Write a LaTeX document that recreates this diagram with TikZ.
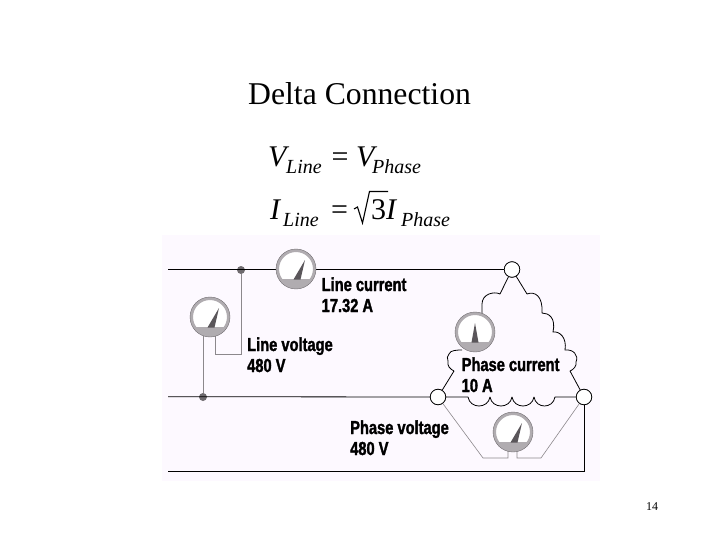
\documentclass[tikz,border=0pt]{standalone}
\usepackage{fontspec}
\setmainfont{Liberation Serif}
\newfontfamily\lblfont[FakeStretch=0.78,FakeBold=1.6]{Liberation Sans Bold}
\definecolor{panel}{HTML}{FDF9FF}
\definecolor{mgray}{HTML}{B0ACB0}
\definecolor{ndl}{HTML}{5A565A}
\definecolor{wire}{HTML}{8C888C}
\definecolor{dotc}{HTML}{6E6A6E}
\tikzset{
  lbl/.style={anchor=base west,inner sep=0pt,font=\lblfont\fontsize{18.8}{18.8}\selectfont,text=black},
  eqbig/.style={anchor=base west,inner sep=0pt,font=\itshape\fontsize{30}{30}\selectfont},
  eqsub/.style={anchor=base west,inner sep=0pt,font=\itshape\fontsize{20}{20}\selectfont},
  eqop/.style={anchor=base west,inner sep=0pt,font=\fontsize{30}{30}\selectfont},
  term/.style={circle,draw=black,fill=white,line width=0.7pt,minimum size=15.5pt,inner sep=0pt},
  dotn/.style={circle,fill=dotc,minimum size=8pt,inner sep=0pt},
  face/.style={circle,draw=none,fill=none,minimum size=40pt,inner sep=0pt},
  thickw/.style={line width=1.5pt,black},
  thinw/.style={line width=0.8pt,black},
  grayw/.style={line width=0.8pt,wire},
  coil/.style={line width=0.8pt,black,line join=round},
  pics/gauge/.style n args={2}{code={
    \fill[white] (0,0) circle (19.5);
    \begin{scope}
      \clip (0,0) circle (19.5);
      \fill[mgray] (-21,10) rectangle (21,21);
    \end{scope}
    \draw[mgray,line width=3pt] (0,0) circle (18.5);
    \draw[ndl!70!mgray,line width=0.4pt] (0,0) circle (20);
    \fill[ndl] (#1-3.5,10.5) -- (#2,-9) -- (#1+3.5,10.5) -- cycle;
  }}
}
\begin{document}
\begin{tikzpicture}[x=1pt,y=-1pt]
\useasboundingbox (0,0) rectangle (720,540);
\fill[white] (0,0) rectangle (720,540);
\fill[panel] (162,235) rectangle (600,481);

\node[anchor=base west,inner sep=0pt,font=\fontsize{31.7}{31.7}\selectfont] (title) at (248,105) {Delta Connection};

\node[eqbig] (v1) at (268,167) {V};
\node[eqsub] (v1s) at (286,174) {Line};
\node[eqop] (eq1) at (331.5,167) {=};
\node[eqbig] (v2) at (356,167) {V};
\node[eqsub] (v2s) at (372,174) {Phase};
\node[eqbig] (i1) at (270,220) {I};
\node[eqsub] (i1s) at (283,226) {Line};
\node[eqop] (eq2) at (331,220) {=};
\node[eqop] (three) at (371,220) {3};
\node[eqbig] (i2) at (386,220) {I};
\node[eqsub] (i2s) at (401,226) {Phase};
\draw[line width=1.1pt,black,line join=miter] (354,209) -- (357.5,207) -- (362.5,223) -- (369.5,191.5) -- (388,191.5);

% nodes of the circuit
\node[term] (T) at (512,269.5) {};
\node[term] (L) at (438,397) {};
\node[term] (R) at (584,397) {};
\node[dotn] (d1) at (241,270) {};
\node[dotn] (d2) at (203,397) {};
\coordinate (a1) at (168,269.5);
\coordinate (a2) at (168,396.7);
\coordinate (a3) at (168,471.5);
\coordinate (c3) at (584,471.5);
\coordinate (k1) at (215,354.5);
\coordinate (k2) at (241,354.5);
\coordinate (k0) at (215,335);
\coordinate (k3) at (203,335);

% supply lines
\draw[thickw] (a1) -- (T);
\draw[thinw] (a2) -- (L);
\draw[thinw] (a3) -- (c3) -- (R);

% line-voltage meter wires
\draw[grayw] (d1) -- (k2) -- (k1) -- (k0);
\draw[grayw] (k3) -- (d2);

% phase-voltage meter wires
\coordinate (p1) at (483,458);
\coordinate (p2) at (508,458);
\coordinate (p3) at (508,450);
\coordinate (p4) at (517,450);
\coordinate (p5) at (517,458);
\coordinate (p6) at (541,458);
\draw[line width=0.6pt,wire] (L) -- (p1) -- (p2) -- (p3);
\draw[line width=0.6pt,wire] (R) -- (p6) -- (p5) -- (p4);

% left winding
\draw[coil] (T) -- (500,294)
  .. controls (494,291) and (482,294) .. (482,304)
  -- (482,314);
\draw[coil] (462,350)
  .. controls (458,350) and (450,350) .. (449,354)
  .. controls (447,356) and (447,358) .. (448,361)
  .. controls (447,366) and (450,369) .. (454,371)
  -- (L);
% right winding
\draw[coil] (T) -- (527,294)
  .. controls (535,291) and (543,296) .. (542,313)
  .. controls (549,313) and (556,318) .. (553,332)
  .. controls (560,331) and (567,338) .. (565,350)
  .. controls (573,349) and (579,355) .. (576,362)
  .. controls (577,366) and (573,370) .. (570,371)
  -- (R);
% bottom winding
\draw[coil] (L) -- (468,397)
  .. controls (470,409) and (488,409) .. (490,397)
  .. controls (492,409) and (510,409) .. (512,397)
  .. controls (514,409) and (532,409) .. (534,397)
  .. controls (536,409) and (553,409) .. (555,397)
  -- (R);
% redraw terminal faces
\node[term] at (T) {};
\node[term] at (L) {};
\node[term] at (R) {};

% gauges
\node[face] (m1) at (296,269) {};
\node[face] (m2) at (210,317) {};
\node[face] (m3) at (475,332) {};
\node[face] (m4) at (513,432) {};
\pic at (m1) {gauge={1}{9}};
\pic at (m2) {gauge={1}{9}};
\pic at (m3) {gauge={0}{0}};
\pic at (m4) {gauge={1}{9}};

% labels
\node[lbl] (l1a) at (321.5,291) {Line current};
\node[lbl] (l1b) at (321.5,312) {17.32 A};
\node[lbl] (l2a) at (247,351) {Line voltage};
\node[lbl] (l2b) at (247,372) {480 V};
\node[lbl] (l3a) at (461.5,371) {Phase current};
\node[lbl] (l3b) at (461.5,392) {10 A};
\node[lbl] (l4a) at (350,434) {Phase voltage};
\node[lbl] (l4b) at (350,455) {480 V};

\node[anchor=base west,inner sep=0pt,font=\fontsize{12}{12}\selectfont] (pg) at (646,510) {14};
\end{tikzpicture}
\end{document}
